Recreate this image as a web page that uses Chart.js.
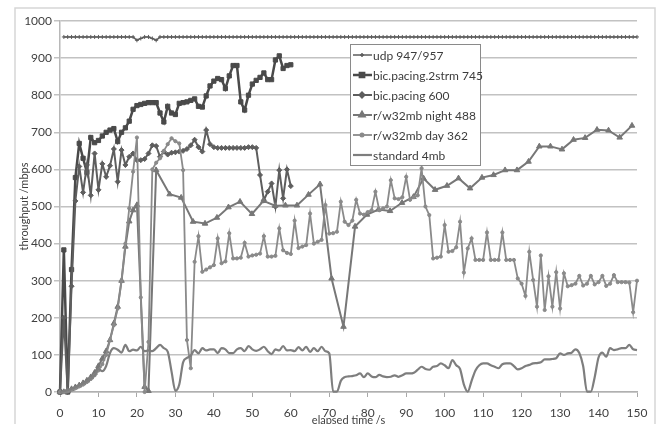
<!DOCTYPE html>
<html>
<head>
<meta charset="utf-8">
<script src="https://cdn.jsdelivr.net/npm/chart.js@4.4.1/dist/chart.umd.min.js"></script>
<style>
  html, body { margin: 0; padding: 0; background: #fff; }
  #wrap { width: 664px; height: 424px; }
</style>
</head>
<body>
<div id="wrap"><canvas id="chart" width="664" height="424"></canvas></div>
<script>
// one sample per second, starting at the given second
const udpStart = 1;
const udpValues = [
  957, 957, 957, 957, 957, 957, 957, 957, 957, 957,
  957, 957, 957, 957, 957, 957, 957, 957, 957, 948,
  953, 957, 957, 953, 948, 957, 957, 957, 957, 957,
  957, 957, 957, 957, 957, 957, 957, 957, 957, 957,
  957, 957, 957, 957, 957, 957, 957, 957, 957, 957,
  957, 957, 957, 957, 957, 957, 957, 957, 957, 957,
  957, 957, 957, 957, 957, 957, 957, 957, 957, 957,
  957, 957, 957, 957, 957, 957, 957, 957, 957, 957,
  957, 957, 957, 957, 957, 957, 957, 957, 957, 957,
  957, 957, 957, 957, 957, 957, 957, 957, 957, 957,
  957, 957, 957, 957, 957, 957, 957, 957, 957, 957,
  957, 957, 957, 957, 957, 957, 957, 957, 957, 957,
  957, 957, 957, 957, 957, 957, 957, 957, 957, 957,
  957, 957, 957, 957, 957, 957, 957, 957, 957, 957,
  957, 957, 957, 957, 957, 957, 957, 957, 957, 957
];

const twoStreamStart = 0;
const twoStreamValues = [
  0, 383, 0, 330, 578, 670, 630, 592, 686, 672,
  678, 690, 700, 706, 710, 675, 700, 712, 730, 762,
  772, 775, 778, 780, 780, 780, 752, 728, 770, 752,
  748, 778, 780, 782, 786, 790, 770, 768, 798, 825,
  838, 845, 842, 818, 852, 880, 880, 782, 760, 800,
  830, 840, 848, 860, 842, 842, 895, 906, 872, 880,
  882
];

const pacingStart = 0;
const pacingValues = [
  0, 200, 0, 285, 515, 608, 538, 612, 530, 643,
  545, 615, 580, 610, 655, 567, 652, 612, 634, 643,
  625, 625, 628, 643, 665, 663, 634, 648, 640, 645,
  646, 648, 650, 655, 665, 680, 660, 648, 706, 668,
  660, 658, 658, 658, 658, 658, 658, 658, 658, 660,
  660, 658, 585, 517, 540, 562, 500, 598, 522, 600,
  555
];

// night run was logged at irregular times
const nightTimes = [
  0, 1, 2, 3, 4, 5, 6, 7, 8, 9, 10, 11, 12, 13, 14, 15, 16, 17, 18, 19, 20,
  22, 23, 25,
  28.5, 31.5, 34.6, 37.7, 40.8, 43.8, 46.8, 49.9, 52.9, 55.9,
  58.6, 61.6, 64.6, 67.6, 70.6, 73.7, 76.7, 79.8, 82.8, 85.8,
  88.9, 91.9, 94.5, 97.5, 100.6, 103.6, 106.6, 109.7, 112.7, 115.7,
  118.8, 121.8, 124.6, 127.5, 130.5, 133.5, 136.5, 139.6, 142.6, 145.5,
  148.7
];
const nightValues = [
  0, 0, 3, 8, 13, 18, 24, 31, 40, 52, 70, 90, 110, 140, 185, 230, 300, 392, 460, 490, 504,
  14, 3, 598,
  533, 524, 459, 454, 470, 498, 513, 480, 515, 502,
  503, 503, 532, 560, 306, 176, 446, 478, 492, 488,
  510, 526, 576, 545, 556, 576, 549, 578, 585, 598,
  598, 621, 662, 662, 654, 680, 685, 707, 705, 686,
  718
];

const dayStart = 0;
const dayValues = [
  0, 0, 2, 6, 10, 15, 20, 27, 35, 45,
  58, 75, 100, 140, 180, 225, 300, 400, 495, 594,
  686, 255, 0, 135, 600, 618, 630, 650, 668, 684,
  676, 670, 598, 140, 64, 351, 420, 324, 330, 336,
  342, 414, 347, 352, 428, 360, 360, 362, 402, 365,
  368, 370, 373, 420, 365, 365, 367, 441, 382, 375,
  372, 462, 388, 392, 396, 481, 400, 405, 410, 504,
  427, 428, 432, 513, 459, 450, 462, 518, 481, 478,
  485, 490, 540, 490, 495, 500, 571, 522, 520, 525,
  580, 518, 525, 530, 603, 500, 477, 360, 362, 365,
  450, 378, 380, 390, 459, 322, 387, 414, 356, 356,
  356, 430, 356, 356, 356, 430, 356, 356, 356, 306,
  292, 259, 378, 302, 230, 368, 221, 312, 230, 323,
  225, 320, 285, 288, 292, 313, 287, 292, 313, 290,
  296, 313, 286, 292, 315, 296, 296, 296, 295, 215,
  300
];

const standardStart = 0;
const standardValues = [
  0, 2, 5, 9, 13, 18, 23, 29, 36, 45,
  62, 56, 70, 105, 118, 114, 106, 127, 110, 114,
  112, 122, 110, 112, 110, 118, 127, 118, 109, 55,
  3, 20, 80, 92, 98, 113, 104, 118, 112, 115,
  115, 105, 118, 115, 105, 105, 115, 118, 110, 124,
  115, 111, 115, 122, 110, 102, 115, 112, 124, 112,
  113, 110, 121, 112, 122, 108, 118, 110, 122, 110,
  104, 1, 1, 30, 40, 42, 43, 45, 50, 40,
  50, 42, 40, 46, 42, 40, 41, 45, 41, 45,
  50, 50, 52, 60, 68, 62, 60, 68, 70, 77,
  72, 64, 86, 72, 62, 20, 1, 30, 58, 72,
  77, 77, 72, 68, 64, 75, 77, 77, 70, 61,
  64, 70, 73, 77, 78, 80, 88, 88, 89, 91,
  104, 100, 104, 106, 115, 105, 70, 1, 1, 40,
  93, 106, 95, 118, 113, 115, 118, 118, 127, 115,
  113
];

const seriesNames = [
  "udp 947/957",
  "bic.pacing.2strm 745",
  "bic.pacing 600",
  "r/w32mb night 488",
  "r/w32mb day 362",
  "standard 4mb"
];

const yTicks = [0, 100, 200, 300, 400, 500, 600, 700, 800, 900, 1000];
const xTicks = [0, 10, 20, 30, 40, 50, 60, 70, 80, 90, 100, 110, 120, 130, 140, 150];

function perSecond(start, values) {
  return values.map((v, i) => ({ x: start + i, y: v }));
}
function paired(times, values) {
  return values.map((v, i) => ({ x: times[i], y: v }));
}

const FONT = "Lato, 'Open Sans', sans-serif";

// light frame round the whole chart
const frame = {
  id: "frame",
  beforeDraw(chart) {
    const ctx = chart.ctx;
    ctx.save();
    ctx.fillStyle = "#fff";
    ctx.fillRect(0, 0, chart.width, chart.height);
    ctx.strokeStyle = "#d6d6d6";
    ctx.lineWidth = 1.5;
    ctx.strokeRect(15, 8, 640, 430);
    ctx.restore();
  }
};

// boxed legend sitting inside the plot
const boxLegend = {
  id: "boxLegend",
  afterDraw(chart) {
    const ctx = chart.ctx;
    const left = 350, top = 44, w = 130, h = 121;
    ctx.save();
    ctx.fillStyle = "#fff";
    ctx.fillRect(left, top, w, h);
    ctx.strokeStyle = "#8a8a8a";
    ctx.lineWidth = 1;
    ctx.strokeRect(left + 0.5, top + 0.5, w, h);
    ctx.font = "12px " + FONT;
    ctx.textBaseline = "middle";
    chart.data.datasets.forEach((ds, i) => {
      const y = top + 11 + i * 20;
      ctx.strokeStyle = ds.borderColor;
      ctx.lineWidth = ds.borderWidth;
      ctx.beginPath();
      ctx.moveTo(left + 3, y);
      ctx.lineTo(left + 22, y);
      ctx.stroke();
      if (ds.pointRadius > 0) {
        ctx.fillStyle = ds.pointBackgroundColor;
        ctx.strokeStyle = ds.borderColor;
        Chart.helpers.drawPoint(ctx, {
          pointStyle: ds.pointStyle, radius: ds.pointRadius, rotation: 0, borderWidth: 1
        }, left + 12, y);
      }
      ctx.fillStyle = "#3c3c3c";
      ctx.fillText(ds.label, left + 23, y + 1);
    });
    ctx.restore();
  }
};

function makeSet(label, data, color, width, style, radius, order, smooth) {
  return {
    label: label,
    data: data,
    borderColor: color,
    backgroundColor: color,
    pointBackgroundColor: color,
    pointBorderColor: color,
    borderWidth: width,
    pointStyle: style,
    pointRadius: radius,
    pointBorderWidth: 1,
    pointHoverRadius: radius,
    cubicInterpolationMode: smooth ? "monotone" : "default",
    tension: 0,
    order: order,
    clip: 8
  };
}

const ctx = document.getElementById("chart").getContext("2d");
new Chart(ctx, {
  type: "line",
  data: {
    datasets: [
      makeSet(seriesNames[0], perSecond(udpStart, udpValues), "#5c5c5c", 1.5, "cross", 2, 6, false),
      makeSet(seriesNames[1], perSecond(twoStreamStart, twoStreamValues), "#4a4a4a", 2.5, "rect", 3, 5, false),
      makeSet(seriesNames[2], perSecond(pacingStart, pacingValues), "#5e5e5e", 2, "rectRot", 2.5, 4, false),
      makeSet(seriesNames[3], paired(nightTimes, nightValues), "#777777", 2, "triangle", 3.2, 3, false),
      makeSet(seriesNames[4], perSecond(dayStart, dayValues), "#8a8a8a", 1.8, "circle", 1.6, 2, false),
      makeSet(seriesNames[5], perSecond(standardStart, standardValues), "#7e7e7e", 2.2, "circle", 0, 1, true)
    ]
  },
  options: {
    responsive: false,
    animation: false,
    devicePixelRatio: 1,
    layout: { padding: { left: 14, right: 27, top: 21, bottom: 0 } },
    plugins: { legend: { display: false }, tooltip: { enabled: false } },
    scales: {
      x: {
        type: "linear",
        min: 0,
        max: 150,
        afterBuildTicks: (s) => { s.ticks = xTicks.map(v => ({ value: v })); },
        afterFit: (s) => { s.height = 32; },
        ticks: { color: "#404040", font: { family: FONT, size: 12 }, padding: 9, maxRotation: 0,
          callback: (v) => String(v) },
        grid: { drawOnChartArea: false, drawTicks: true, tickLength: 5, color: "#a8a8a8", lineWidth: 1 },
        border: { color: "#b0b0b0", width: 1.5 },
        title: {
          display: true, text: "elapsed time /s", color: "#404040",
          font: { family: FONT, size: 11 }, padding: { top: 0, bottom: -3 }
        }
      },
      y: {
        min: 0,
        max: 1000,
        afterBuildTicks: (s) => { s.ticks = yTicks.map(v => ({ value: v })); },
        afterFit: (s) => { s.width = 46; },
        ticks: { color: "#404040", font: { family: FONT, size: 12 }, padding: 2,
          callback: (v) => String(v) },
        grid: { color: "#c2c2c2", lineWidth: 1.5, tickLength: 6 },
        border: { color: "#b8b8b8", width: 1.5 },
        title: {
          display: true, text: "throughput /mbps", color: "#404040",
          font: { family: FONT, size: 11 }, padding: { top: 4, bottom: 0 }
        }
      }
    }
  },
  plugins: [frame, boxLegend]
});
</script>
</body>
</html>
